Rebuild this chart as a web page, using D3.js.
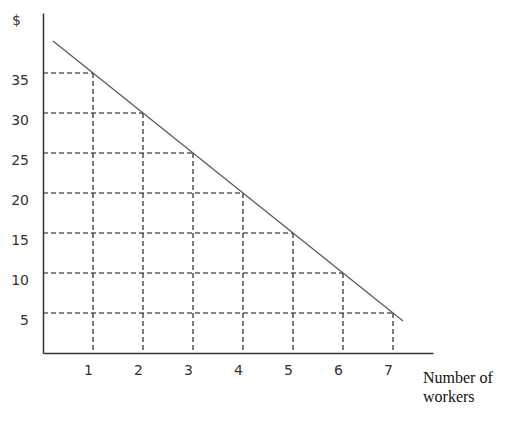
<!DOCTYPE html>
<html>
<head>
<meta charset="utf-8">
<script src="https://cdn.jsdelivr.net/npm/d3@7"></script>
<style>
  body { margin: 0; background: #fff; }
  svg { display: block; }
</style>
</head>
<body>
<svg id="chart" width="506" height="421"></svg>
<script>
// THE DATA
const workers = [1, 2, 3, 4, 5, 6, 7];
const dollars = [35, 30, 25, 20, 15, 10, 5];
const yTicks = [5, 10, 15, 20, 25, 30, 35];
const xTicks = [1, 2, 3, 4, 5, 6, 7];
// the demand line runs a bit past the first and last points
const lineX = [0.2, 7.2];
const lineY = [39, 4];

const svg = d3.select("#chart");

const x = d3.scaleLinear().domain([0, 7.8]).range([43, 433]);
const y = d3.scaleLinear().domain([0, 42.5]).range([353, 13]);

const dash = "5,3";
const ink = "#333";

// dashed guides: across from the y axis, then down to the x axis
const guides = svg.append("g")
  .attr("stroke", "#111")
  .attr("stroke-width", 1.1)
  .attr("stroke-dasharray", dash);

workers.forEach((w, i) => {
  guides.append("line")
    .attr("x1", x(0)).attr("x2", x(w))
    .attr("y1", y(dollars[i])).attr("y2", y(dollars[i]));
  guides.append("line")
    .attr("x1", x(w)).attr("x2", x(w))
    .attr("y1", y(dollars[i])).attr("y2", y(0));
});

// the line itself
svg.append("line")
  .attr("x1", x(lineX[0])).attr("y1", y(lineY[0]))
  .attr("x2", x(lineX[1])).attr("y2", y(lineY[1]))
  .attr("stroke", "#555")
  .attr("stroke-width", 1.3);

// axes
const xAxis = svg.append("g")
  .attr("transform", `translate(0,${y(0)})`)
  .call(d3.axisBottom(x).tickValues(xTicks).tickSize(0).tickSizeOuter(0).tickPadding(0));
const yAxis = svg.append("g")
  .attr("transform", `translate(${x(0)},0)`)
  .call(d3.axisLeft(y).tickValues(yTicks).tickSize(0).tickSizeOuter(0).tickPadding(0));

[xAxis, yAxis].forEach(g => {
  g.select(".domain").attr("stroke", ink).attr("stroke-width", 1.5);
  g.selectAll("text")
    .attr("fill", "#333")
    .style("font-family", "'DejaVu Sans', Verdana, sans-serif")
    .style("font-size", "14px");
});

xAxis.selectAll("text")
  .attr("x", -5)
  .attr("y", 22)
  .attr("dy", 0);

yAxis.selectAll("text")
  .attr("x", -14)
  .attr("y", 11)
  .attr("dy", 0);

// labels
svg.append("text")
  .attr("x", 12).attr("y", 25)
  .attr("fill", "#333")
  .style("font-family", "'DejaVu Sans', Verdana, sans-serif")
  .style("font-size", "14px")
  .text("$");

const xLabel = svg.append("text")
  .attr("x", 423).attr("y", 383)
  .attr("fill", "#111")
  .style("font-family", "'Liberation Serif', 'Times New Roman', serif")
  .style("font-size", "16px");
xLabel.append("tspan").attr("x", 423).text("Number of");
xLabel.append("tspan").attr("x", 423).attr("dy", 19).text("workers");
</script>
</body>
</html>
